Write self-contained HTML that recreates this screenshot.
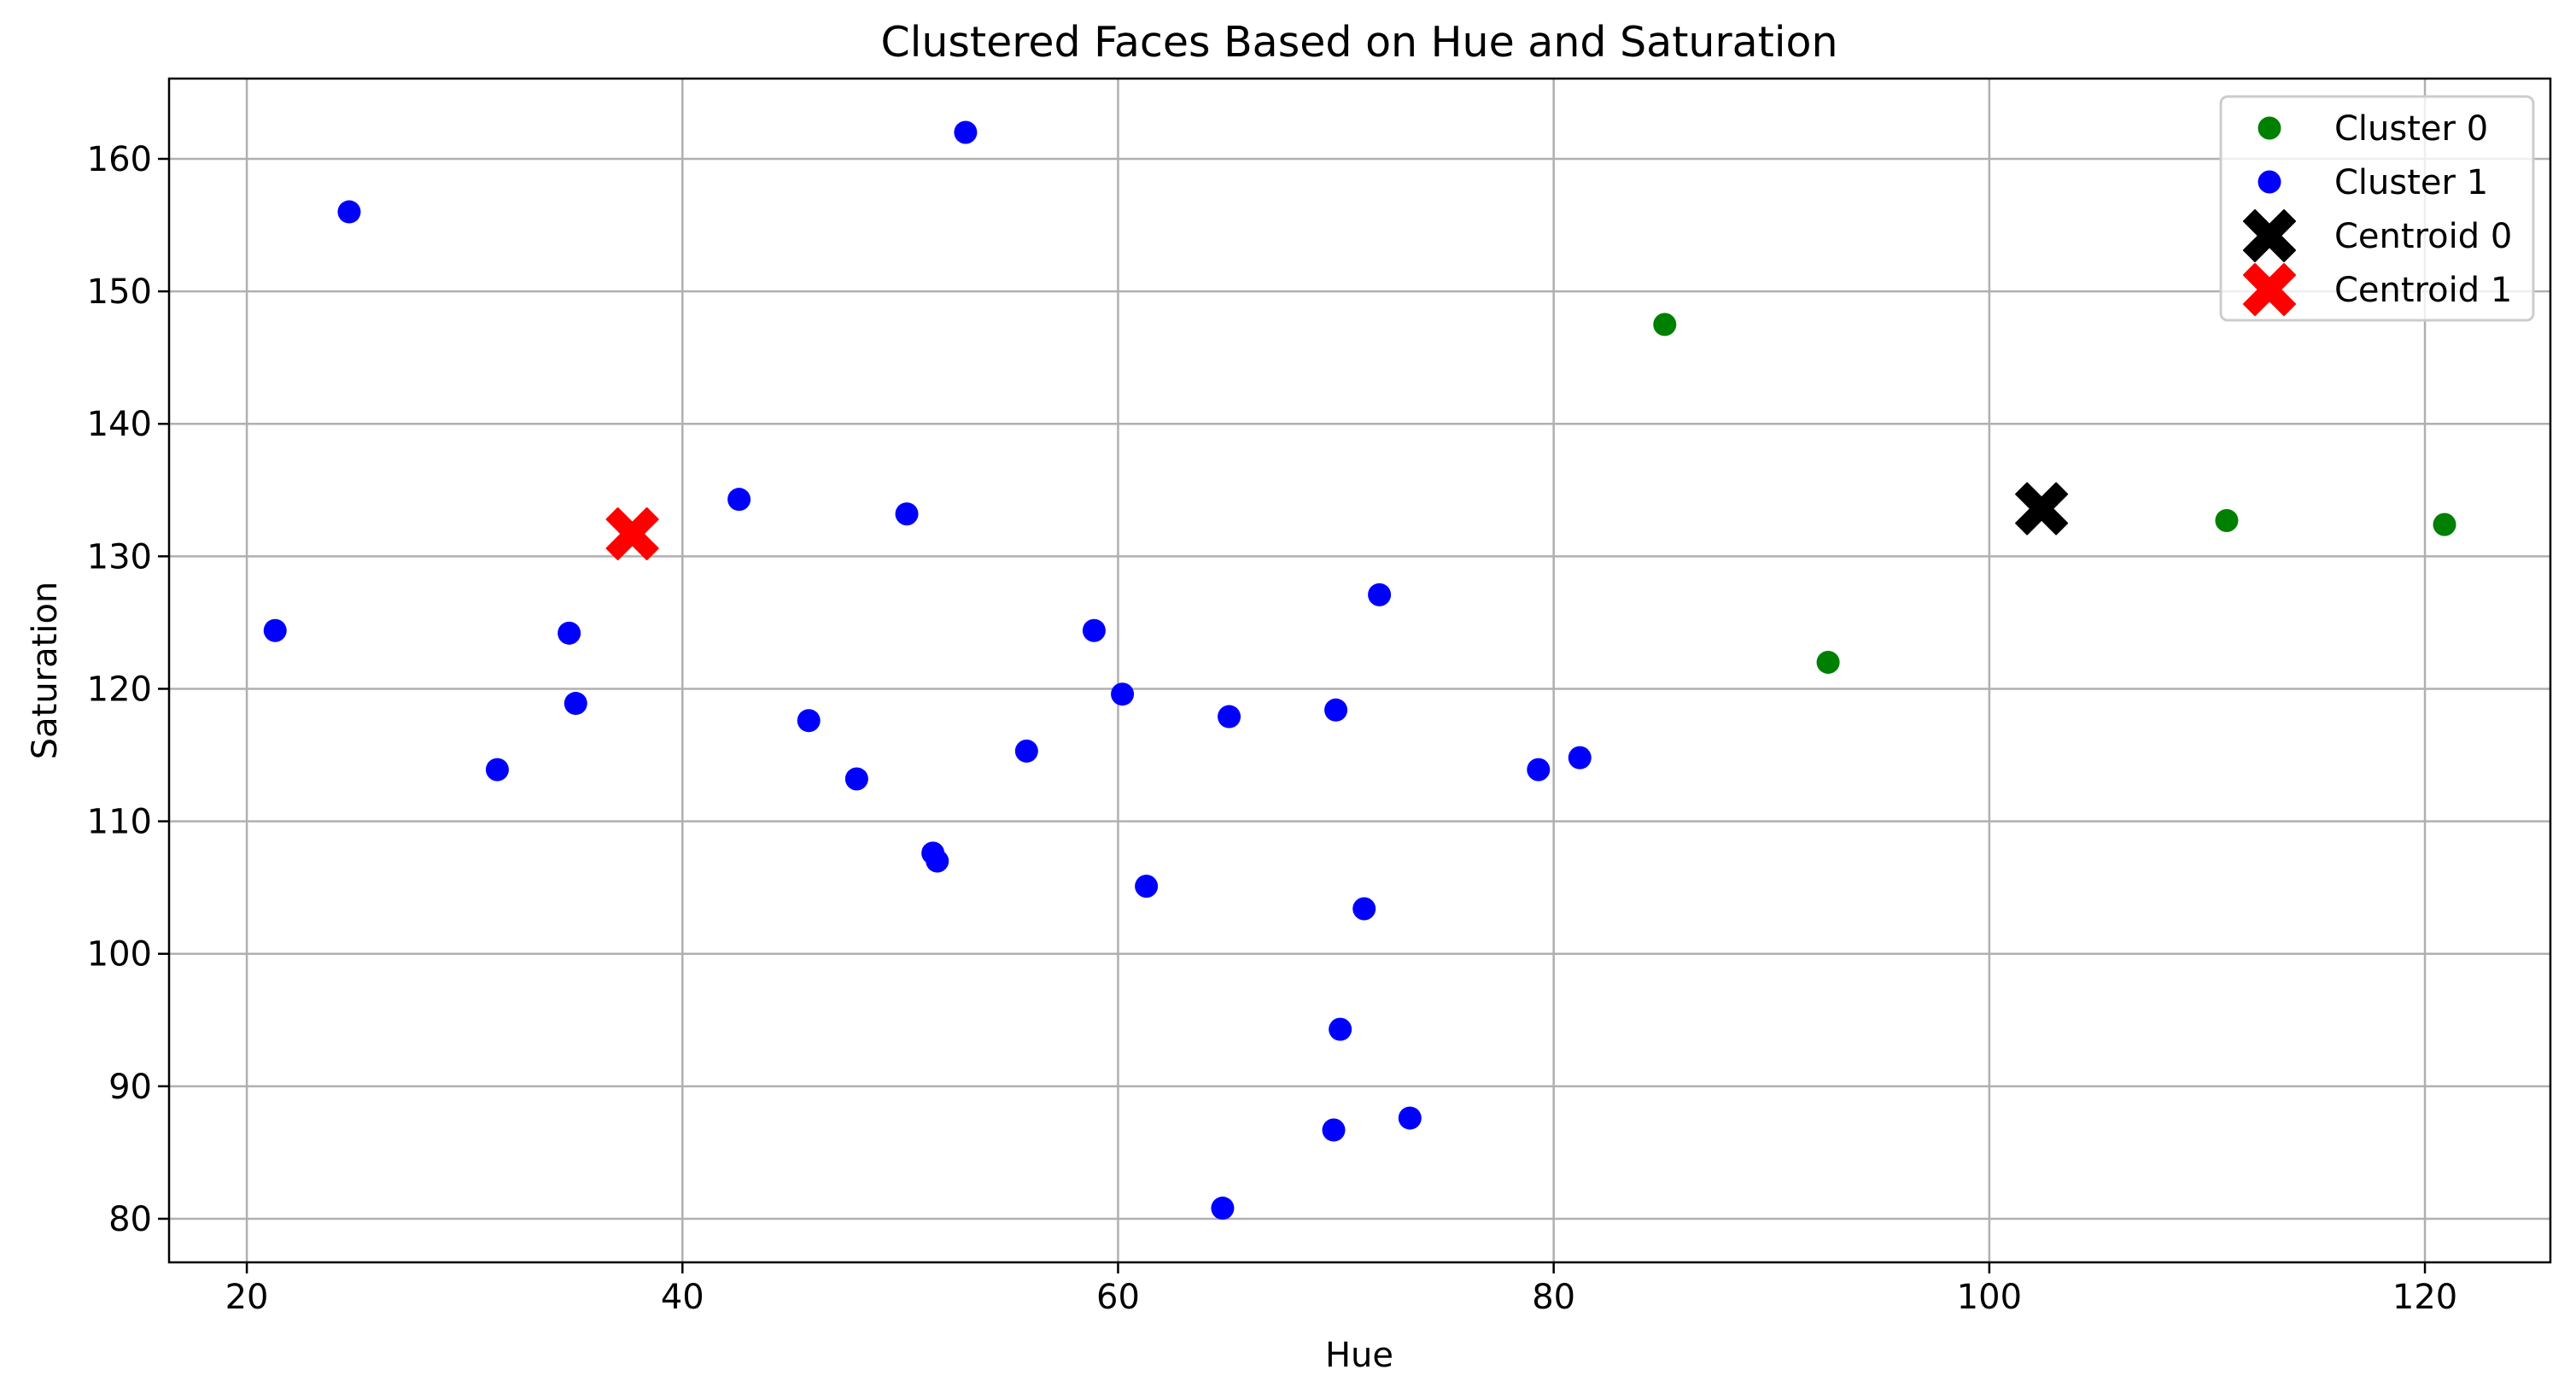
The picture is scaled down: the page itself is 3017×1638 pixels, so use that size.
<!DOCTYPE html>
<html><head><meta charset="utf-8"><style>
html,body{margin:0;padding:0;background:#fff;}
svg{display:block;font-family:"DejaVu Sans","Liberation Sans",sans-serif;}
</style></head><body>
<svg id="chart" width="3017" height="1638" viewBox="0 0 3017 1638" xmlns="http://www.w3.org/2000/svg">
<rect width="3017" height="1638" fill="#fff"/>
<text x="1592" y="66" font-size="49" text-anchor="middle">Clustered Faces Based on Hue and Saturation</text>
<g id="grid"></g>
<g id="ticks"></g>
<g id="marks"></g>
<rect x="198" y="92" width="2789" height="1386" fill="none" stroke="#000" stroke-width="2.5"/>
<text x="1592" y="1600" font-size="40" text-anchor="middle">Hue</text>
<text transform="translate(66,785) rotate(-90)" font-size="40" text-anchor="middle">Saturation</text>
<g id="legend">
<rect x="2601" y="113" width="366" height="262" rx="8" fill="#fff" fill-opacity="0.8" stroke="#ccc" stroke-width="3"/>
</g>
</svg>
<script>
const cluster0Hue = [85.1, 92.6, 110.9, 120.9];
const cluster0Sat = [147.5, 122.0, 132.7, 132.4];
const cluster1Hue = [24.7, 53.0, 21.3, 34.8, 35.1, 31.5, 42.6, 50.3, 45.8, 48.0, 51.5, 51.7, 55.8, 58.9, 60.2, 61.3, 65.1, 64.8, 70.0, 72.0, 71.3, 70.2, 69.9, 73.4, 79.3, 81.2];
const cluster1Sat = [156.0, 162.0, 124.4, 124.2, 118.9, 113.9, 134.3, 133.2, 117.6, 113.2, 107.6, 107.0, 115.3, 124.4, 119.6, 105.1, 117.9, 80.8, 118.4, 127.1, 103.4, 94.3, 86.7, 87.6, 113.9, 114.8];
const centroidHue = [102.4, 37.7];
const centroidSat = [133.6, 131.7];
const xTicks = [20, 40, 60, 80, 100, 120];
const yTicks = [80, 90, 100, 110, 120, 130, 140, 150, 160];
const legendLabels = ["Cluster 0", "Cluster 1", "Centroid 0", "Centroid 1"];

const NS = "http://www.w3.org/2000/svg";
const L = 198, R = 2987, T = 92, B = 1478;
const X0 = 16.43, X1 = 125.76, Y0 = 76.71, Y1 = 166.06;
function sx(v){ return L + (v - X0) / (X1 - X0) * (R - L); }
function sy(v){ return B - (v - Y0) / (Y1 - Y0) * (B - T); }
function mk(tag, attrs, parent){ const e = document.createElementNS(NS, tag); for (const k in attrs) e.setAttribute(k, attrs[k]); parent.appendChild(e); return e; }
const grid = document.getElementById('grid'), ticks = document.getElementById('ticks'), marks = document.getElementById('marks');

xTicks.forEach(v => {
  const x = sx(v);
  const g = mk('line', {x1:x, x2:x, y1:T, y2:B, stroke:'#b0b0b0', 'stroke-width':2.5}, grid);
  
  
  mk('line', {x1:x, x2:x, y1:B, y2:B+13, stroke:'#000', 'stroke-width':2.5}, ticks);
  const t = mk('text', {x:x, y:B+54, 'font-size':40, 'text-anchor':'middle'}, ticks);
  t.textContent = v;
  
  
});
yTicks.forEach(v => {
  const y = sy(v);
  const g = mk('line', {x1:L, x2:R, y1:y, y2:y, stroke:'#b0b0b0', 'stroke-width':2.5}, grid);
  
  
  mk('line', {x1:L-13, x2:L, y1:y, y2:y, stroke:'#000', 'stroke-width':2.5}, ticks);
  const t = mk('text', {x:L-20, y:y+14, 'font-size':40, 'text-anchor':'end'}, ticks);
  t.textContent = v;
  
  
});

function dot(cx, cy, color, parent){ return mk('circle', {cx:cx, cy:cy, r:13.5, fill:color}, parent); }
function xmark(cx, cy, color, parent){
  const a = 30, w = 13;
  const d = `M${cx-a+w} ${cy-a} L${cx} ${cy-w} L${cx+a-w} ${cy-a} L${cx+a} ${cy-a+w} L${cx+w} ${cy} L${cx+a} ${cy+a-w} L${cx+a-w} ${cy+a} L${cx} ${cy+w} L${cx-a+w} ${cy+a} L${cx-a} ${cy+a-w} L${cx-w} ${cy} L${cx-a} ${cy-a+w} Z`;
  return mk('path', {d:d, fill:color, 'stroke-linejoin':'round', stroke:color, 'stroke-width':2}, parent);
}
cluster0Hue.forEach((h, i) => {
  const p = dot(sx(h), sy(cluster0Sat[i]), 'green', marks);
  
  
});
cluster1Hue.forEach((h, i) => {
  const p = dot(sx(h), sy(cluster1Sat[i]), 'blue', marks);
  
  
});
const cColors = ['black', 'red'];
centroidHue.forEach((h, i) => {
  const p = xmark(sx(h), sy(centroidSat[i]), cColors[i], marks);
  
  
});

const lg = document.getElementById('legend');
const lColors = ['green', 'blue', 'black', 'red'];
legendLabels.forEach((lab, i) => {
  const y = 150 + i * 63;
  const m = i < 2 ? dot(2658, y, lColors[i], lg) : xmark(2658, y, lColors[i], lg);
  
  
  const t = mk('text', {x:2734, y:y+14, 'font-size':40}, lg);
  t.textContent = lab;
  
  
});
</script>
</body></html>
